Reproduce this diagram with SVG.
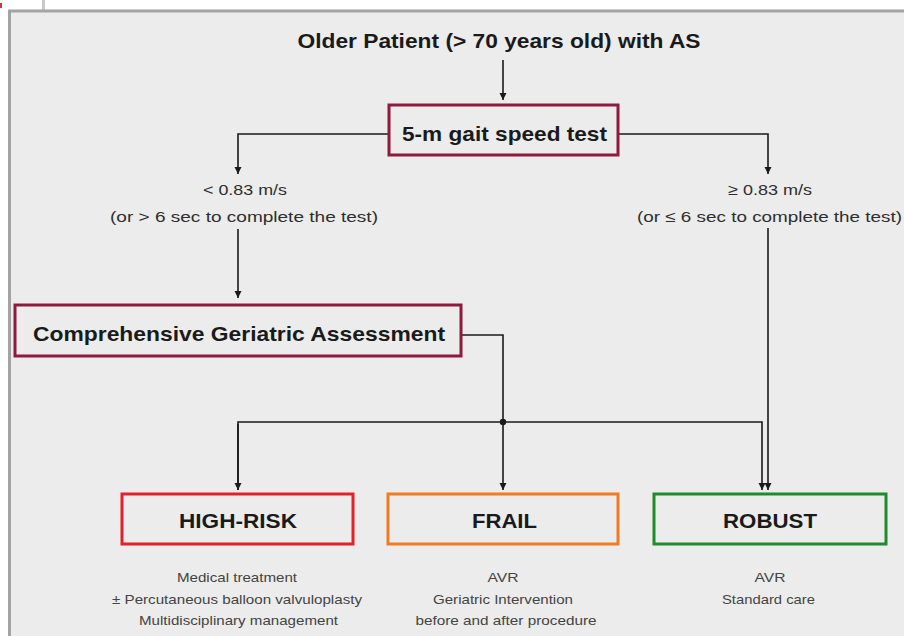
<svg xmlns="http://www.w3.org/2000/svg" width="904" height="636" viewBox="0 0 904 636">
<defs>
<marker id="ah" viewBox="0 0 8 10" refX="7" refY="5" markerWidth="8" markerHeight="10" markerUnits="userSpaceOnUse" orient="auto">
<path d="M0,1.5 L7,5 L0,8.5 Z" fill="#1a1a1a"/>
</marker>
<style>
.t{font-family:"Liberation Sans",Arial,sans-serif;fill:#1a1a1a;text-anchor:middle}
.b{font-weight:bold;font-size:21px}
.lbl{font-size:15.5px;fill:#2e2e2e}
.sm{font-size:13.5px;fill:#444}
.box{fill:none;stroke-width:3}
.c{fill:none;stroke:#1a1a1a;stroke-width:1.6}
</style>
</defs>
<rect width="904" height="636" fill="#ffffff"/>
<rect x="42" y="0" width="3" height="10" fill="#c9c9c9"/>
<rect x="0" y="3" width="2" height="5" fill="#e03030"/>
<rect x="9.5" y="11" width="900" height="640" fill="#ebeceb" stroke="#a3a3a3" stroke-width="3"/>

<g id="connectors">
<path class="c" d="M503,60 V100" marker-end="url(#ah)"/>
<path class="c" d="M389,134 H238 V174" marker-end="url(#ah)"/>
<path class="c" d="M619,134 H768 V174" marker-end="url(#ah)"/>
<path class="c" d="M238,229 V298" marker-end="url(#ah)"/>
<path class="c" d="M768,228 V490" marker-end="url(#ah)"/>
<path class="c" d="M462,335 H503 V490" marker-end="url(#ah)"/>
<path class="c" d="M238,490 V422 H762 V490" marker-end="url(#ah)"/>
<path class="c" d="M238,424 V490" marker-end="url(#ah)"/>
<circle cx="503" cy="422" r="3.2" fill="#1a1a1a"/>
</g>

<g id="title">
<text class="t b" x="499" y="48" textLength="403" lengthAdjust="spacingAndGlyphs">Older Patient (&gt; 70 years old) with AS</text>
</g>

<g id="gait">
<rect class="box" x="389" y="105" width="229" height="50" stroke="#8e1b3e"/>
<text class="t b" x="504.5" y="141" textLength="205" lengthAdjust="spacingAndGlyphs">5-m gait speed test</text>
</g>

<g id="slow-label">
<text class="t lbl" x="245" y="195" textLength="84" lengthAdjust="spacingAndGlyphs">&lt; 0.83 m/s</text>
<text class="t lbl" x="244" y="222" textLength="268" lengthAdjust="spacingAndGlyphs">(or &gt; 6 sec to complete the test)</text>
</g>

<g id="fast-label">
<text class="t lbl" x="770" y="195" textLength="84" lengthAdjust="spacingAndGlyphs">≥ 0.83 m/s</text>
<text class="t lbl" x="769.5" y="222" textLength="265" lengthAdjust="spacingAndGlyphs">(or ≤ 6 sec to complete the test)</text>
</g>

<g id="cga">
<rect class="box" x="15" y="305" width="446" height="51" stroke="#8e1b3e"/>
<text class="t b" x="239" y="341" textLength="412" lengthAdjust="spacingAndGlyphs">Comprehensive Geriatric Assessment</text>
</g>

<g id="high-risk">
<rect class="box" x="122" y="494" width="231" height="50" stroke="#e3202c"/>
<text class="t b" x="238" y="528" textLength="118" lengthAdjust="spacingAndGlyphs">HIGH-RISK</text>
<text class="t sm" x="237" y="582" textLength="120" lengthAdjust="spacingAndGlyphs">Medical treatment</text>
<text class="t sm" x="237" y="604" textLength="250" lengthAdjust="spacingAndGlyphs">± Percutaneous balloon valvuloplasty</text>
<text class="t sm" x="238.5" y="625" textLength="199" lengthAdjust="spacingAndGlyphs">Multidisciplinary management</text>
</g>

<g id="frail">
<rect class="box" x="388" y="494" width="230" height="50" stroke="#f07b22"/>
<text class="t b" x="504.5" y="528" textLength="65" lengthAdjust="spacingAndGlyphs">FRAIL</text>
<text class="t sm" x="503" y="582" textLength="31" lengthAdjust="spacingAndGlyphs">AVR</text>
<text class="t sm" x="503" y="604" textLength="140" lengthAdjust="spacingAndGlyphs">Geriatric Intervention</text>
<text class="t sm" x="506" y="625" textLength="181" lengthAdjust="spacingAndGlyphs">before and after procedure</text>
</g>

<g id="robust">
<rect class="box" x="654" y="494" width="232" height="50" stroke="#218a2c"/>
<text class="t b" x="770" y="528" textLength="94" lengthAdjust="spacingAndGlyphs">ROBUST</text>
<text class="t sm" x="770" y="582" textLength="31" lengthAdjust="spacingAndGlyphs">AVR</text>
<text class="t sm" x="768.5" y="604" textLength="93" lengthAdjust="spacingAndGlyphs">Standard care</text>
</g>
</svg>
